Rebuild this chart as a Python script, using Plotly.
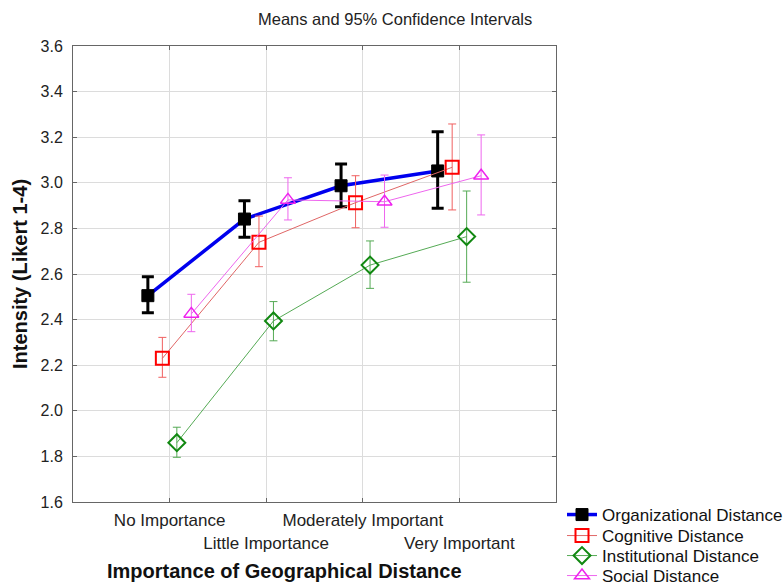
import plotly.graph_objects as go

categories = ["No Importance", "Little Importance", "Moderately Important", "Very Important"]

org_mean = [2.505, 2.841, 2.987, 3.052]
org_low = [2.430, 2.761, 2.895, 2.888]
org_high = [2.588, 2.921, 3.082, 3.224]

cog_mean = [2.230, 2.739, 2.913, 3.068]
cog_low = [2.147, 2.632, 2.803, 2.881]
cog_high = [2.322, 2.854, 3.031, 3.258]

inst_mean = [1.860, 2.394, 2.639, 2.764]
inst_low = [1.796, 2.307, 2.537, 2.564]
inst_high = [1.928, 2.479, 2.745, 2.964]

soc_mean = [2.425, 2.925, 2.917, 3.031]
soc_low = [2.347, 2.837, 2.805, 2.859]
soc_high = [2.511, 3.022, 3.034, 3.210]

series_names = ["Organizational Distance", "Cognitive Distance", "Institutional Distance", "Social Distance"]

FONT = "Liberation Sans, Arial, sans-serif"

styles = [
    dict(offset=-0.225, line=dict(color="#0000ee", width=3.5),
         marker=dict(symbol="square", size=12, color="black", line=dict(color="black", width=1)),
         err=dict(color="black", thickness=3, width=6)),
    dict(offset=-0.075, line=dict(color="#e06666", width=1),
         marker=dict(symbol="square-open", size=13, color="#ff0000", line=dict(color="#ff0000", width=2)),
         err=dict(color="#f06060", thickness=1, width=4)),
    dict(offset=0.075, line=dict(color="#55aa55", width=1),
         marker=dict(symbol="diamond-open", size=13, color="#118811", line=dict(color="#118811", width=2)),
         err=dict(color="#55aa55", thickness=1, width=4)),
    dict(offset=0.225, line=dict(color="#ee66ee", width=1),
         marker=dict(symbol="triangle-up-open", size=13, color="#ee22ee", line=dict(color="#ee22ee", width=1.5)),
         err=dict(color="#ee66ee", thickness=1, width=4)),
]

data = [
    (org_mean, org_low, org_high),
    (cog_mean, cog_low, cog_high),
    (inst_mean, inst_low, inst_high),
    (soc_mean, soc_low, soc_high),
]

legend_ids = ["legend", "legend2", "legend3", "legend4"]
legend_centers = [515, 536, 556, 576]

fig = go.Figure()
for name, (m, lo, hi), st, lid in zip(series_names, data, styles, legend_ids):
    xs = [i + 1 + st["offset"] for i in range(len(categories))]
    fig.add_trace(go.Scatter(
        x=xs, y=m, name=name, mode="lines+markers",
        line=st["line"], marker=st["marker"], legend=lid,
        error_y=dict(type="data", symmetric=False,
                     array=[h - v for h, v in zip(hi, m)],
                     arrayminus=[v - l for v, l in zip(m, lo)],
                     color=st["err"]["color"], thickness=st["err"]["thickness"],
                     width=st["err"]["width"]),
    ))

ticktext = [c if i % 2 == 0 else "<br>" + c for i, c in enumerate(categories)]

legend_layout = {}
for lid, cy in zip(legend_ids, legend_centers):
    legend_layout[lid] = dict(xref="container", yref="container", x=562 / 784, xanchor="left",
                              y=1 - cy / 585, yanchor="middle",
                              font=dict(family=FONT, size=17, color="#111"),
                              itemwidth=30, bgcolor="rgba(0,0,0,0)",
                              borderwidth=0)

fig.update_layout(
    width=784, height=585,
    margin=dict(l=73, r=228, t=46, b=83, autoexpand=False),
    paper_bgcolor="white", plot_bgcolor="white",
    font=dict(family=FONT, size=15, color="#222"),
    showlegend=True,
    **legend_layout,
    xaxis=dict(range=[0, 5], tickvals=[1, 2, 3, 4], ticktext=ticktext, tickangle=0,
               automargin=False, ticklabelstandoff=3,
               showgrid=True, gridcolor="#dcdcdc", gridwidth=1,
               showline=True, linecolor="#666", linewidth=1, mirror="ticks",
               ticks="inside", ticklen=4, tickcolor="#666",
               tickfont=dict(family=FONT, size=17, color="#222"), zeroline=False),
    yaxis=dict(range=[1.6, 3.6], dtick=0.2, tickformat=".1f", automargin=False,
               ticklabelstandoff=6,
               showgrid=True, gridcolor="#dcdcdc", gridwidth=1,
               showline=True, linecolor="#666", linewidth=1, mirror="ticks",
               ticks="inside", ticklen=4, tickcolor="#666",
               tickfont=dict(family=FONT, size=16, color="#222"), zeroline=False),
    annotations=[
        dict(text="Means and 95% Confidence Intervals", xref="paper", yref="paper",
             x=(395 - 73) / 483, y=1 + (46 - 19) / 456, xanchor="center", yanchor="middle",
             showarrow=False, font=dict(family=FONT, size=16.5, color="#222")),
        dict(text="<b>Importance of Geographical Distance</b>", xref="paper", yref="paper",
             x=(284 - 73) / 483, y=-(571 - 502) / 456, xanchor="center", yanchor="middle",
             showarrow=False, font=dict(family=FONT, size=20, color="#111")),
        dict(text="<b>Intensity (Likert 1-4)</b>", xref="paper", yref="paper",
             x=-(73 - 20) / 483, y=0.5, xanchor="center", yanchor="middle", textangle=-90,
             showarrow=False, font=dict(family=FONT, size=20, color="#111")),
    ],
)

fig.write_html("out.html", post_script="document.body.style.margin='0px';",
               config={"displayModeBar": False})
